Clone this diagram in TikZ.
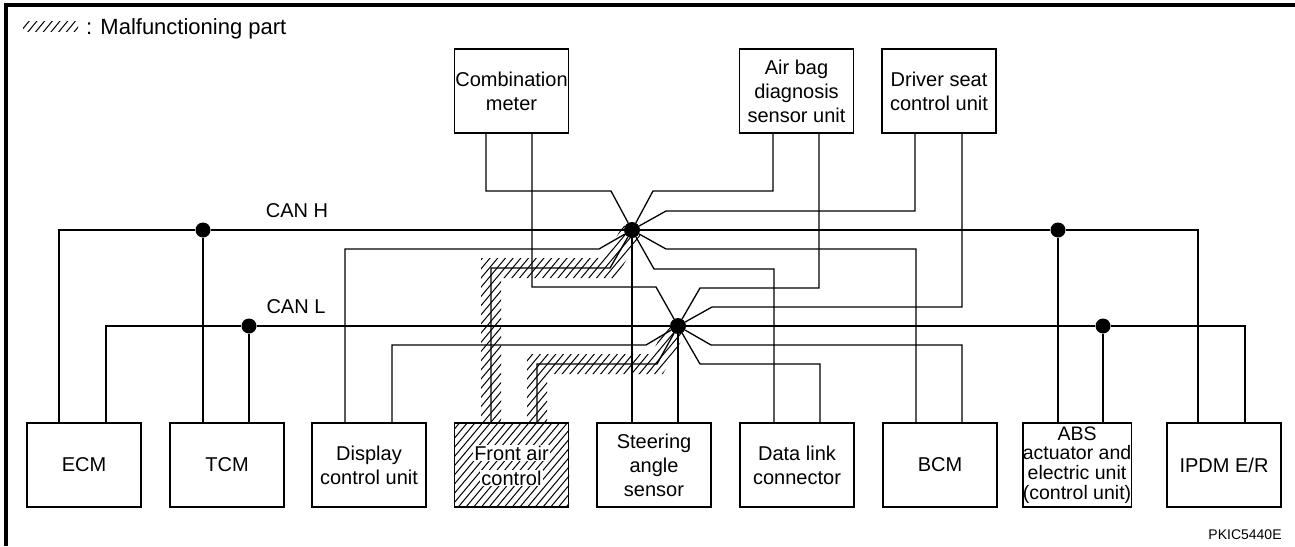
\documentclass[tikz,border=0pt]{standalone}
\usepackage{fontspec}
\setmainfont{Liberation Sans}
\begin{document}
\begin{tikzpicture}[x=1pt,y=-1pt,
  wire/.style={line width=1.3pt},
  box/.style={draw, line width=1.4pt, minimum width=114pt, minimum height=84pt, inner sep=0pt, align=center, font=\fontsize{20}{24}\selectfont},
  dot/.style={circle, fill, inner sep=0pt, minimum size=15pt},
  hub/.style={circle, fill, inner sep=0pt, minimum size=16pt},
  hatchline/.style={line width=1pt},
  lbl/.style={font=\fontsize{20}{24}\selectfont, inner sep=0pt},
]
\useasboundingbox (0,0) rectangle (1295,546);
% frame
\draw[line width=3.5pt] (6,546) -- (6,5) -- (1295,5);
% legend
\begin{scope}
  \clip (23,21) rectangle (78,31);
  \foreach \c in {10,17.7,...,90} \draw[hatchline] (\c,35) -- ++(14,-17);
\end{scope}
\node[font=\fontsize{22}{26}\selectfont, inner sep=0pt, anchor=west] (legend) at (86,29) {: Malfunctioning part};
% hatched bands (malfunction) and hatched unit
\begin{scope}
  \clip (481,423) -- (481,258) -- (604.2,258) -- (623.3,225) -- (640.7,235) -- (615.8,278) -- (501,278) -- (501,423) -- cycle
        (527,423) -- (527,354) -- (651.1,354) -- (669.2,321.2) -- (686.8,330.8) -- (662.9,374) -- (547,374) -- (547,423) -- cycle
        (454,423) rectangle (569,507);
  \foreach \c in {200,207.7,...,720} \draw[hatchline] (\c,512) -- ++(250,-298);
\end{scope}
% bottom units
\node[box] (ecm) at (84,465) {ECM};
\node[box] (tcm) at (227,465) {TCM};
\node[box] (disp) at (369,465) {Display\\control unit};
\node[box] (fac) at (511.5,465) {};
\node[lbl, fill=white, inner sep=1pt] (fac1) at (511.5,453) {Front air};
\node[lbl, fill=white, inner sep=1pt] (fac2) at (511.5,478) {control};
\node[box] (steer) at (654,465) {Steering\\angle\\sensor};
\node[box] (dlc) at (797,465) {Data link\\connector};
\node[box] (bcm) at (940,465) {BCM};
\node[box, minimum width=106pt, font=\fontsize{19.5}{19.7}\selectfont] (abs) at (1077,465) {ABS\\actuator and\\electric unit\\(control unit)};
\node[box] (ipdm) at (1224,465) {IPDM E/R};
% top units
\node[box] (comb) at (511.5,91) {Combination\\meter};
\node[box] (air) at (796.5,91) {Air bag\\diagnosis\\sensor unit};
\node[box] (drv) at (939,91) {Driver seat\\control unit};
% hubs and junctions
\node[hub] (hubH) at (632,230) {};
\node[hub] (hubL) at (678,326) {};
\node[dot] (dH1) at (203,230) {};
\node[dot] (dH2) at (1058,230) {};
\node[dot] (dL1) at (249,326) {};
\node[dot] (dL2) at (1103,326) {};
% labels
\node[lbl] (canh) at (297,211) {CAN H};
\node[lbl] (canl) at (296,307) {CAN L};
\node[font=\fontsize{14}{16}\selectfont, inner sep=0pt] (code) at (1245,535) {PKIC5440E};
% CAN H bus
\draw[wire] ([xshift=-25pt]ecm.north) |- (dH1) -- (hubH) -- (dH2) -| ([xshift=-26pt]ipdm.north);
\draw[wire] ([xshift=-24pt]tcm.north) -- (dH1);
\draw[wire] ([xshift=-19pt]abs.north) -- (dH2);
% CAN L bus
\draw[wire] ([xshift=22pt]ecm.north) |- (dL1) -- (hubL) -- (dL2) -| ([xshift=21pt]ipdm.north);
\draw[wire] ([xshift=22pt]tcm.north) -- (dL1);
\draw[wire] ([xshift=26pt]abs.north) -- (dL2);
% hub H spokes
\draw[wire] (hubH) -- ++(-21,-39) -| ([xshift=-25.5pt]comb.south);
\draw[wire] (hubH) -- ++(21,-39) -| ([xshift=-23.5pt]air.south);
\draw[wire] (hubH) -- ++(34,-19) -| ([xshift=-24pt]drv.south);
\draw[wire] (hubH) -- ++(-33,19) -| ([xshift=-24pt]disp.north);
\draw[wire] (hubH) -- ++(-22,38) -| ([xshift=-20.5pt]fac.north);
\draw[wire] (hubH) -- ([xshift=-22pt]steer.north);
\draw[wire] (hubH) -- ++(34,19) -| ([xshift=-24pt]bcm.north);
\draw[wire] (hubH) -- ++(22,39) -| ([xshift=-23pt]dlc.north);
% hub L spokes
\draw[wire] (hubL) -- ++(-22,-39) -| ([xshift=20.5pt]comb.south);
\draw[wire] (hubL) -- ++(22,-38) -| ([xshift=22.5pt]air.south);
\draw[wire] (hubL) -- ++(34,-19) -| ([xshift=23pt]drv.south);
\draw[wire] (hubL) -- ++(-32,19) -| ([xshift=23pt]disp.north);
\draw[wire] (hubL) -- ++(-21,38) -| ([xshift=25.5pt]fac.north);
\draw[wire] (hubL) -- ([xshift=24pt]steer.north);
\draw[wire] (hubL) -- ++(33,19) -| ([xshift=22pt]bcm.north);
\draw[wire] (hubL) -- ++(22,38) -| ([xshift=23pt]dlc.north);
\end{tikzpicture}
\end{document}
